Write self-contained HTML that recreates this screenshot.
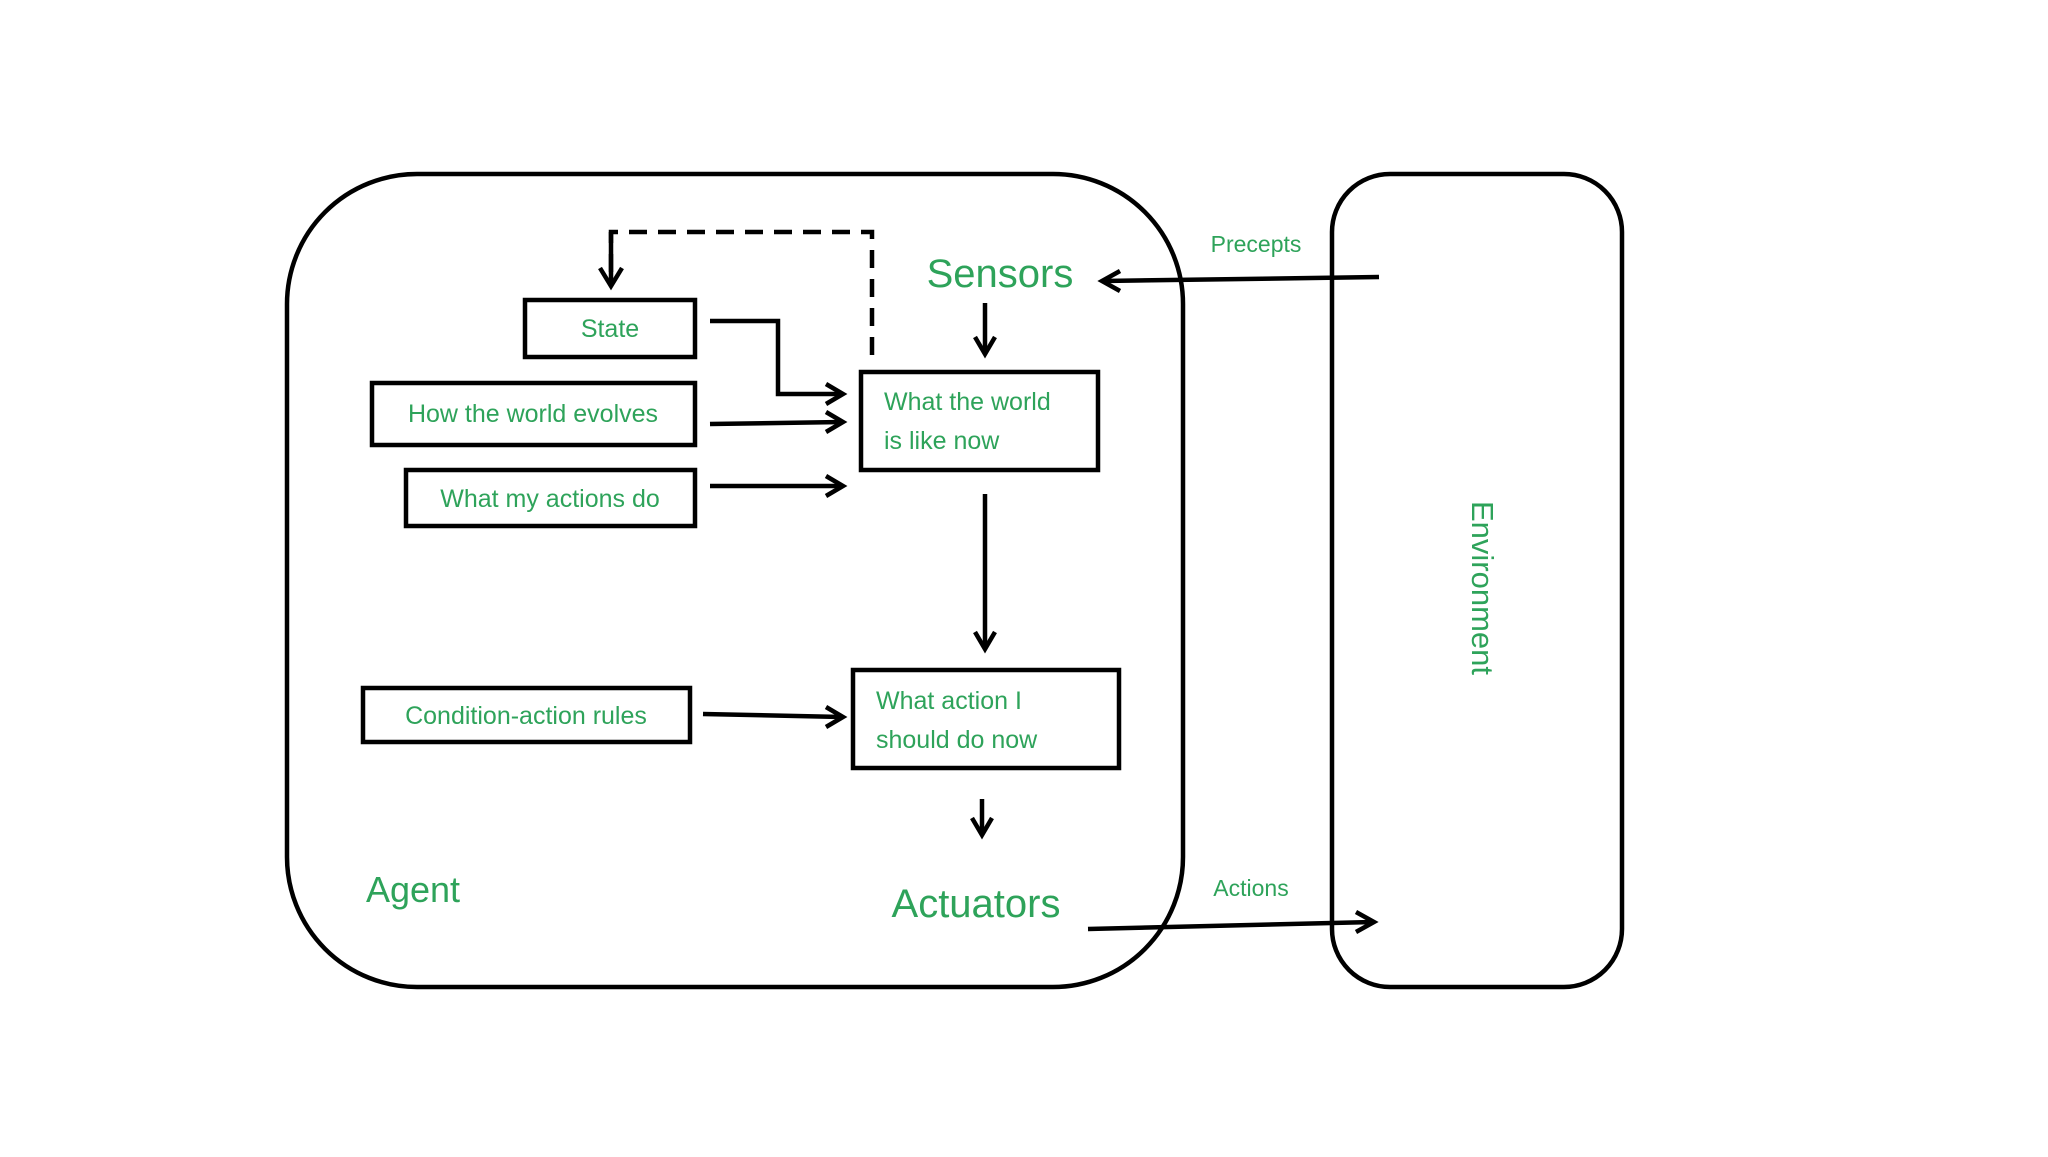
<!DOCTYPE html>
<html><head><meta charset="utf-8"><style>
body{margin:0;background:#fff;}
svg text{font-family:"Liberation Sans",sans-serif;fill:#2ea35a;}
</style></head><body>
<svg width="2048" height="1152" viewBox="0 0 2048 1152" xmlns="http://www.w3.org/2000/svg">
<defs>
<marker id="a" markerWidth="12" markerHeight="12" refX="9" refY="6" orient="auto" markerUnits="userSpaceOnUse">
</marker>
</defs>
<g fill="none" stroke="#000" stroke-width="4.5">
<rect x="287" y="174" width="896" height="813" rx="130"/>
<rect x="1332" y="174" width="290" height="813" rx="58"/>
<rect x="525" y="300" width="170" height="57"/>
<rect x="372" y="383" width="323" height="62"/>
<rect x="406" y="470" width="289" height="56"/>
<rect x="861" y="372" width="237" height="98"/>
<rect x="363" y="688" width="327" height="54"/>
<rect x="853" y="670" width="266" height="98"/>
</g>
<g fill="none" stroke="#000" stroke-width="4.5" stroke-linejoin="miter">
<path d="M872 355 V232 H611 V285" stroke-dasharray="18 11"/>
<path d="M611 285 V232" />
<path d="M600 268 L611 286 L622 268"/>
<path d="M710 321 H778 V394 H842"/>
<path d="M826 384 L843 394 L826 404"/>
<path d="M710 424 L842 422"/>
<path d="M826 412 L843 422 L826 432"/>
<path d="M710 486 H842"/>
<path d="M826 476 L843 486 L826 496"/>
<path d="M985 303 V353"/>
<path d="M975 337 L985 354 L995 337"/>
<path d="M985 494 V648"/>
<path d="M975 632 L985 649 L995 632"/>
<path d="M703 714 L842 717"/>
<path d="M826 707 L843 717 L826 727"/>
<path d="M982 799 V834"/>
<path d="M972 818 L982 835 L992 818"/>
<path d="M1379 277 L1103 281"/>
<path d="M1120 271 L1102 281 L1120 291"/>
<path d="M1088 929 L1373 922"/>
<path d="M1356 912 L1374 922 L1356 932"/>
</g>
<g font-size="25">
<text x="610" y="337" text-anchor="middle">State</text>
<text x="533" y="422" text-anchor="middle">How the world evolves</text>
<text x="550" y="507" text-anchor="middle">What my actions do</text>
<text x="884" y="410">What the world</text>
<text x="884" y="449">is like now</text>
<text x="526" y="724" text-anchor="middle">Condition-action rules</text>
<text x="876" y="709">What action I</text>
<text x="876" y="748">should do now</text>
</g>
<text x="1000" y="287" font-size="40" text-anchor="middle">Sensors</text>
<text x="976" y="917" font-size="40" text-anchor="middle">Actuators</text>
<text x="413" y="902" font-size="36" text-anchor="middle">Agent</text>
<text x="1256" y="252" font-size="23" text-anchor="middle">Precepts</text>
<text x="1251" y="896" font-size="23" text-anchor="middle">Actions</text>
<text x="0" y="0" font-size="31" text-anchor="middle" transform="translate(1472 588) rotate(90)">Environment</text>
</svg>
</body></html>
